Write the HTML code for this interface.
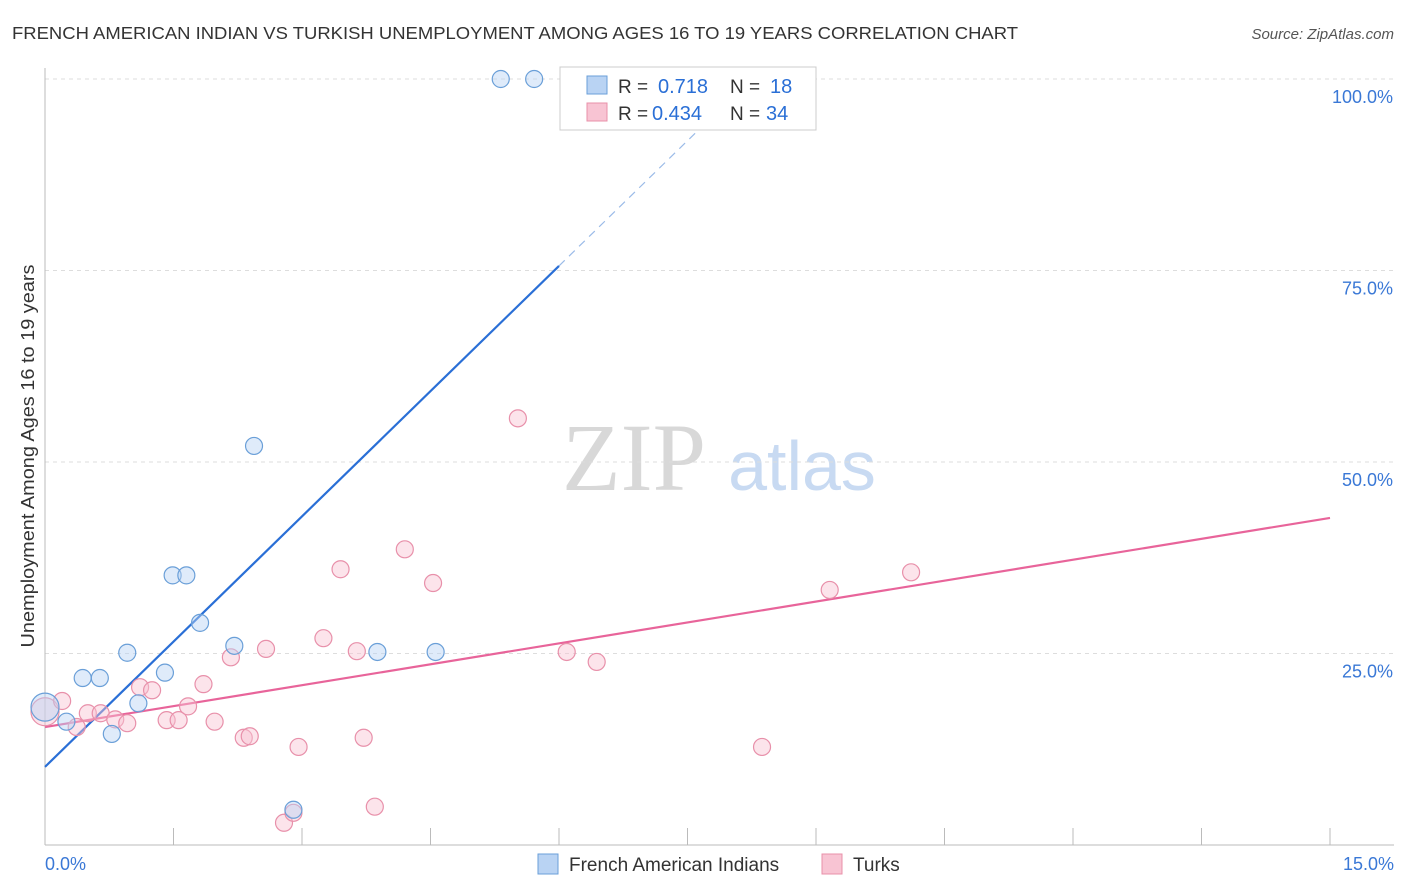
<!DOCTYPE html>
<html><head><meta charset="utf-8"><style>
body{margin:0;background:#fff;font-family:"Liberation Sans",sans-serif;}
#wrap{position:relative;width:1406px;height:892px;overflow:hidden;}
</style></head><body>
<div id="wrap">
<svg id="chart" width="1406" height="892" xmlns="http://www.w3.org/2000/svg">
<text x="12" y="39" font-size="17.5" fill="#333" textLength="1006" lengthAdjust="spacingAndGlyphs">FRENCH AMERICAN INDIAN VS TURKISH UNEMPLOYMENT AMONG AGES 16 TO 19 YEARS CORRELATION CHART</text>
<text x="1394" y="39" font-size="15" fill="#555" font-style="italic" text-anchor="end">Source: ZipAtlas.com</text>
<text x="634" y="490" font-size="96" fill="#d8d8d8" font-family="Liberation Serif,serif" text-anchor="middle">ZIP</text>
<text x="802" y="490" font-size="70" fill="#c8daf2" text-anchor="middle">atlas</text>
<g id="grid"></g><g id="axes"></g><g id="lines"></g><g id="pts"></g>
<text x="34" y="456" font-size="18" fill="#333" text-anchor="middle" textLength="383" lengthAdjust="spacingAndGlyphs" transform="rotate(-90 34 456)">Unemployment Among Ages 16 to 19 years</text>
<g>
<rect x="560" y="67" width="256" height="63" fill="#fff" stroke="#ccc"/>
<rect x="587" y="76" width="20" height="18" fill="#b9d3f3" stroke="#6a9fd8"/>
<rect x="587" y="103" width="20" height="18" fill="#f8c4d3" stroke="#e890aa"/>
<text x="618" y="93" font-size="19" fill="#333">R =</text>
<text x="658" y="93" font-size="20" fill="#2a6fd6">0.718</text>
<text x="730" y="93" font-size="19" fill="#333">N =</text>
<text x="770" y="93" font-size="20" fill="#2a6fd6">18</text>
<text x="618" y="120" font-size="19" fill="#333">R =</text>
<text x="652" y="120" font-size="20" fill="#2a6fd6">0.434</text>
<text x="730" y="120" font-size="19" fill="#333">N =</text>
<text x="766" y="120" font-size="20" fill="#2a6fd6">34</text>
</g>
<g>
<rect x="538" y="854" width="20" height="20" fill="#b9d3f3" stroke="#6a9fd8"/>
<text x="569" y="871" font-size="19" fill="#333">French American Indians</text>
<rect x="822" y="854" width="20" height="20" fill="#f8c4d3" stroke="#e890aa"/>
<text x="853" y="871" font-size="19" fill="#333">Turks</text>
</g>
</svg>
</div>
<script>
const blueX=[0,0.25,0.44,0.64,0.78,0.96,1.09,1.40,1.49,1.65,1.81,2.21,2.44,2.90,3.88,4.56,5.32,5.71];
const blueY=[18.0,16.1,21.8,21.8,14.5,25.1,18.5,22.5,35.2,35.2,29.0,26.0,52.1,4.6,25.2,25.2,100,100];
const pinkX=[0,0.20,0.37,0.50,0.65,0.82,0.96,1.11,1.25,1.42,1.56,1.67,1.85,1.98,2.17,2.32,2.39,2.58,2.79,2.90,2.96,3.25,3.45,3.64,3.72,3.85,4.20,4.53,5.52,6.09,6.44,8.37,9.16,10.11];
const pinkY=[17.4,18.8,15.4,17.2,17.2,16.4,15.9,20.6,20.2,16.3,16.3,18.1,21.0,16.1,24.5,14.0,14.2,25.6,2.9,4.2,12.8,27.0,36.0,25.3,14.0,5.0,38.6,34.2,55.7,25.2,23.9,12.8,33.3,35.6];
const blueTrendX=[0,6.0,7.9];
const blueTrendY=[10.2,75.6,96.3];
const pinkTrendX=[0,15];
const pinkTrendY=[15.4,42.7];
const yTicks=[25,50,75,100];
const yTickLabels=["25.0%","50.0%","75.0%","100.0%"];
const xTickCount=10;
const xs=v=>45+v/15*1285;
const ys=v=>845-v/100*766;
const NS="http://www.w3.org/2000/svg";
function mk(tag,attrs,parent){const e=document.createElementNS(NS,tag);for(const k in attrs)e.setAttribute(k,attrs[k]);document.getElementById(parent).appendChild(e);return e;}
yTicks.forEach((t,i)=>{
 const g=mk('line',{x1:45,x2:1394,y1:ys(t),y2:ys(t),stroke:'#ddd','stroke-dasharray':'4,4'},'grid');
 
 
 const l=mk('text',{x:1393,y:ys(t)+24,'font-size':18,fill:'#3a78d6','text-anchor':'end'},'grid');
 l.textContent=yTickLabels[i];
 
 
});
const ax=mk('line',{x1:45,x2:1394,y1:845,y2:845,stroke:'#bbb'},'axes');


const ay=mk('line',{x1:45,x2:45,y1:68,y2:845,stroke:'#bbb'},'axes');


for(let i=0;i<=xTickCount;i++){
 const t=mk('line',{x1:xs(i*1.5),x2:xs(i*1.5),y1:828,y2:845,stroke:'#bbb'},'axes');
 
 
}
const x0=mk('text',{x:45,y:870,'font-size':18,fill:'#3a78d6'},'axes');x0.textContent='0.0%';


const x1=mk('text',{x:1394,y:870,'font-size':18,fill:'#3a78d6','text-anchor':'end'},'axes');x1.textContent='15.0%';


function pt(x,y,fill,stroke,name,big){
 const c=mk('circle',{cx:xs(x),cy:ys(y),r:big?14:8.5,fill:fill,'fill-opacity':0.45,stroke:stroke,'stroke-width':1.2},'pts');
 
 
}
pinkX.forEach((x,i)=>pt(x,pinkY[i],'#f8c4d3','#e890aa','point-turks',i==0));
blueX.forEach((x,i)=>pt(x,blueY[i],'#b9d3f3','#6a9fd8','point-french',i==0));
const bl=mk('line',{x1:xs(blueTrendX[0]),y1:ys(blueTrendY[0]),x2:xs(blueTrendX[1]),y2:ys(blueTrendY[1]),stroke:'#2a6fd6','stroke-width':2.2},'lines');


const bd=mk('line',{x1:xs(blueTrendX[1]),y1:ys(blueTrendY[1]),x2:xs(blueTrendX[2]),y2:ys(blueTrendY[2]),stroke:'#9bbbe8','stroke-width':1.2,'stroke-dasharray':'8,6'},'lines');


const pl=mk('line',{x1:xs(pinkTrendX[0]),y1:ys(pinkTrendY[0]),x2:xs(pinkTrendX[1]),y2:ys(pinkTrendY[1]),stroke:'#e8649a','stroke-width':2.2},'lines');


</script>
</body></html>
